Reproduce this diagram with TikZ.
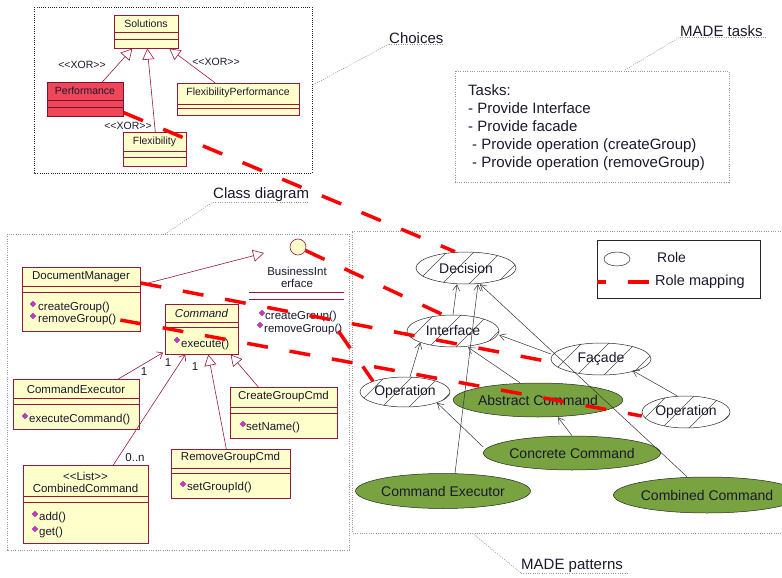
\documentclass[tikz,border=0pt]{standalone}
\usepackage{fontspec}
\setmainfont{Liberation Sans}[Ligatures=TeXOff]
\usetikzlibrary{arrows.meta,shapes.geometric}

\definecolor{umlline}{RGB}{150,25,60}
\definecolor{umlfill}{RGB}{255,255,204}
\definecolor{perfred}{RGB}{240,70,90}
\definecolor{cmdgreen}{RGB}{120,163,64}
\definecolor{mapred}{RGB}{255,0,0}
\definecolor{textcol}{RGB}{25,25,45}
\definecolor{iconmag}{RGB}{220,40,220}
\definecolor{framegray}{RGB}{150,150,150}

\newcommand\fcls{\fontsize{11.5}{12}\selectfont}
\newcommand\fchoice{\fontsize{10.5}{12}\selectfont}
\newcommand\fxor{\fontsize{10.5}{12}\selectfont}
\newcommand\frole{\fontsize{14}{16}\selectfont}
\newcommand\flabel{\fontsize{15}{18}\selectfont}

\begin{document}
\begin{tikzpicture}[x=1pt,y=-1pt,
  cls/.style={draw=umlline, fill=umlfill, line width=0.6pt, inner sep=0pt, anchor=north west},
  clsline/.style={draw=umlline, line width=0.6pt},
  txt/.style={inner sep=0pt, text=textcol},
  optxt/.style={txt, anchor=west, font=\fcls},
  opicon/.style={draw=black!60, fill=iconmag, minimum size=4pt, inner sep=0pt, rotate=45, line width=0.3pt},
  gen/.style={draw=umlline, line width=0.6pt, -{Triangle[open,length=11pt,width=12pt]}},
  assoc/.style={draw=umlline, line width=0.6pt, -{Straight Barb[length=5pt,width=8pt]}},
  role/.style={ellipse, draw=black!85, line width=0.5pt, inner sep=0pt, font=\frole, text=textcol},
  hatched/.style={role, fill=white,
    path picture={
      \foreach \k in {-3,...,3}
        \draw[black!70, line width=0.5pt]
          ([xshift=\k*27pt-8pt]path picture bounding box.center) ++(-40pt,-40pt) -- ++(80pt,80pt);
    }},
  greenrole/.style={role, fill=cmdgreen},
  rel/.style={draw=black!80, line width=0.5pt, -{Straight Barb[length=6pt,width=7pt]}},
  rolemap/.style={draw=mapred, line width=3.5pt, dash pattern=on 21pt off 22pt},
  grayframe/.style={draw=framegray, line width=0.6pt, dash pattern=on 1pt off 1.3pt},
  choiceframe/.style={draw=black!85, line width=0.6pt, dash pattern=on 1pt off 1.2pt},
  caption/.style={txt, font=\flabel, anchor=south west}
]
\useasboundingbox (0,0) rectangle (782,578);

% ---------- frames and their captions ----------
\draw[choiceframe] (34,7) rectangle (312,173);
\draw[grayframe] (7,234) rectangle (349,550);
\draw[grayframe] (790,231) -- (352,231) -- (352,533) -- (790,533);
\draw[grayframe] (455,71) rectangle (729,182);

\coordinate (chA) at (313,85);
\node[caption] (chcap) at (389,44) {Choices};
\draw[grayframe] (chcap.south west) -- (chcap.south east);
\draw[grayframe] (chA) -- (chcap.south west);

\coordinate (mtA) at (625,70);
\node[caption] (mtcap) at (680,37) {MADE tasks};
\draw[grayframe] (mtcap.south west) -- ([xshift=4pt]mtcap.south east);
\draw[grayframe] (mtA) -- (mtcap.south west);

\coordinate (cdA) at (165,234);
\node[caption] (cdcap) at (213,202) {Class diagram};
\draw[grayframe] (cdcap.south west) -- (cdcap.south east);
\draw[grayframe] (cdA) -- (cdcap.south west);

\coordinate (mpA) at (472,533);
\node[caption] (mpcap) at (521,573) {MADE patterns};
\draw[grayframe] (mpcap.south west) -- ([xshift=6pt]mpcap.south east);
\draw[grayframe] (mpA) -- (mpcap.south west);

% ---------- MADE tasks ----------
\node[txt, font=\flabel, anchor=north west, align=left] (tasks) at (468,84)
  {Tasks:\\- Provide Interface\\- Provide facade\\\hspace*{4pt}- Provide operation (createGroup)\\\hspace*{4pt}- Provide operation (removeGroup)};

% ---------- Choices ----------
\node[cls, minimum width=64pt, minimum height=33pt] (sol) at (114,15) {};
\draw[clsline] (114,32) -- (178,32) (114,39) -- (178,39);
\node[txt, font=\fchoice] (solname) at (146,24) {Solutions};

\node[cls, draw=umlline!80!black, fill=perfred, minimum width=76pt, minimum height=34pt] (perf) at (47,82) {};
\draw[clsline, draw=umlline!80!black] (47,100) -- (123,100) (47,107) -- (123,107);
\node[txt, font=\fchoice] (perfname) at (85,91) {Performance};

\node[cls, minimum width=122pt, minimum height=32pt] (flexperf) at (177,83) {};
\draw[clsline] (177,104) -- (299,104) (177,108) -- (299,108);
\node[txt, font=\fchoice] (flexperfname) at (238,93) {FlexibilityPerformance};

\node[cls, minimum width=63pt, minimum height=34pt] (flex) at (123,132) {};
\draw[clsline] (123,151) -- (186,151) (123,157) -- (186,157);
\node[txt, font=\fchoice] (flexname) at (154.5,142) {Flexibility};

\draw[gen] ([xshift=17pt]perf.north) -- ([xshift=-14pt]sol.south);
\draw[gen] ([xshift=0.5pt]flex.north) -- ([xshift=1pt]sol.south);
\draw[gen] ([xshift=-23pt]flexperf.north) -- ([xshift=23pt]sol.south);

\node[txt, font=\fxor] (xor1) at (82,65) {<<XOR>>};
\node[txt, font=\fxor] (xor2) at (216,62) {<<XOR>>};
\node[txt, font=\fxor] (xor3) at (128,126) {<<XOR>>};

% ---------- Class diagram ----------
% DocumentManager
\node[cls, minimum width=118pt, minimum height=64pt] (dm) at (22,267) {};
\draw[clsline] (22,286) -- (140,286) (22,292) -- (140,292);
\node[txt, font=\fcls] (dmname) at (81,277) {DocumentManager};
\node[opicon] (dmi1) at (33,304) {};
\node[optxt] (dmcg) at (38,308) {createGroup()};
\node[opicon] (dmi2) at (33,316) {};
\node[optxt] (dmrm) at (38,320) {removeGroup()};

% Command
\node[cls, minimum width=73pt, minimum height=50pt] (cmd) at (165,304) {};
\draw[clsline] (165,322) -- (238,322) (165,327) -- (238,327);
\node[txt, font=\fcls\itshape] (cmdname) at (201.5,313) {Command};
\node[opicon] (cmdi) at (177,340) {};
\node[optxt] (cmdex) at (181,345) {execute()};

% CommandExecutor
\node[cls, minimum width=126pt, minimum height=50pt] (ce) at (13,379) {};
\draw[clsline] (13,398) -- (139,398) (13,404) -- (139,404);
\node[txt, font=\fcls] (cename) at (76,389) {CommandExecutor};
\node[opicon] (cei) at (25,416) {};
\node[optxt] (ceex) at (29,420) {executeCommand()};

% CreateGroupCmd
\node[cls, minimum width=107pt, minimum height=51pt] (cgc) at (230,387) {};
\draw[clsline] (230,407) -- (337,407) (230,413) -- (337,413);
\node[txt, font=\fcls] (cgcname) at (283.5,397) {CreateGroupCmd};
\node[opicon] (cgci) at (243,424) {};
\node[optxt] (cgcop) at (246,428) {setName()};

% RemoveGroupCmd
\node[cls, minimum width=119pt, minimum height=49pt] (rgc) at (171,449) {};
\draw[clsline] (171,468) -- (290,468) (171,473) -- (290,473);
\node[txt, font=\fcls] (rgcname) at (230.5,458) {RemoveGroupCmd};
\node[opicon] (rgci) at (183,484) {};
\node[optxt] (rgcop) at (187,488) {setGroupId()};

% CombinedCommand
\node[cls, minimum width=125pt, minimum height=78pt] (cc) at (23,465) {};
\draw[clsline] (23,496) -- (148,496) (23,502) -- (148,502);
\node[txt, font=\fcls, align=center] (ccname) at (85.5,482) {<<List>>\\CombinedCommand};
\node[opicon] (cci1) at (35,514) {};
\node[optxt] (ccadd) at (39,518) {add()};
\node[opicon] (cci2) at (35,529) {};
\node[optxt] (ccget) at (39,533) {get()};

% BusinessInterface (interface shown as a lollipop)
\node[circle, draw=umlline, fill=umlfill, line width=0.6pt, minimum size=16pt, inner sep=0pt] (bi) at (298,247) {};
\node[txt, font=\fcls, align=center] (biname) at (297,277) {BusinessInt\\erface};
\draw[clsline] (249,292) -- (344,292) (249,299) -- (344,299);
\node[opicon] (bii1) at (262,313) {};
\node[optxt] (bicg) at (265,317) {createGroup()};
\node[opicon] (bii2) at (260,325) {};
\node[optxt] (birm) at (264,330) {removeGroup()};
\coordinate (biarrow) at (264,253);

\draw[gen] ([yshift=-18pt]dm.north east) -- (biarrow);
\draw[assoc] ([xshift=42pt]ce.north) -- ([xshift=-2pt,yshift=2pt]cmd.south west);
\draw[assoc] ([xshift=27.5pt]cc.north) -- ([xshift=-16.5pt]cmd.south);
\draw[gen] ([xshift=-4.5pt]rgc.north) -- ([xshift=6.5pt]cmd.south);
\draw[gen] ([xshift=-25.5pt]cgc.north) -- ([xshift=-8pt]cmd.south east);

\node[txt, font=\fcls] (m1) at (144,372) {1};
\node[txt, font=\fcls] (m2) at (168,363) {1};
\node[txt, font=\fcls] (m3) at (195,367) {1};
\node[txt, font=\fcls] (m4) at (135,458) {0..n};

% ---------- MADE patterns ----------
\node[hatched, minimum width=100pt, minimum height=32pt] (dec) at (466,268) {Decision};
\node[hatched, minimum width=92pt, minimum height=32pt] (intf) at (453,331) {Interface};
\node[hatched, minimum width=100pt, minimum height=32pt] (fac) at (601,359) {Façade};
\node[hatched, minimum width=90pt, minimum height=30pt] (opl) at (405,392) {Operation};
\node[hatched, minimum width=88pt, minimum height=32pt] (opr) at (686,412) {Operation};
\node[greenrole, minimum width=138pt, minimum height=34pt] (ac) at (538,400) {Abstract Command};
\node[greenrole, minimum width=146pt, minimum height=34pt] (conc) at (572,453) {Concrete Command};
\node[greenrole, minimum width=146pt, minimum height=35pt] (cex) at (443,491) {Command Executor};
\node[greenrole, minimum width=148pt, minimum height=36pt] (comb) at (707,495) {Combined Command};

\draw[rel] (intf.north) -- ([xshift=-9pt]dec.south);
\draw[rel] ([xshift=12pt]cex.north) -- ([xshift=12pt]dec.south);
\draw[rel] ([xshift=-20pt]comb.north) -- ([xshift=14pt]dec.south);
\draw[rel] ([xshift=5pt]opl.north) -- (intf.south west);
\draw[rel] ([xshift=-18pt]ac.north) -- ([xshift=15pt]intf.south);
\draw[rel] ([yshift=5pt]fac.west) -- ([yshift=-4pt]intf.east);
\draw[rel] ([xshift=-9pt]opr.north) -- ([xshift=-4pt]fac.south east);
\draw[rel] ([yshift=6pt]conc.west) -- (opl.south east);
\draw[rel] (conc.north) -- ([xshift=20pt]ac.south);

% legend
\node[draw=black!85, line width=0.6pt, minimum width=163pt, minimum height=58pt, inner sep=0pt, anchor=north west] (legend) at (597,240) {};
\node[ellipse, draw=black!85, line width=0.5pt, minimum width=26pt, minimum height=14pt, inner sep=0pt] (legrole) at (617,259) {};
\node[txt, font=\frole, anchor=west] (legroletxt) at (657,257) {Role};
\node[txt, font=\fontsize{14.5}{16}\selectfont, anchor=west] (legmaptxt) at (655,282) {Role mapping};
\coordinate (lega) at (597,282);
\coordinate (legb) at (650,282);
\draw[rolemap, dash phase=12pt] (lega) -- (legb);

% ---------- role mappings ----------
\draw[rolemap] ([yshift=4pt]perf.south east) -- ([xshift=-11pt]dec.north);
\draw[rolemap] (bi.-25) -- ([xshift=-10pt]intf.north);
\draw[rolemap] ([yshift=-16pt]dm.north east) -- ([yshift=-3pt]fac.west);
\draw[rolemap] ([xshift=4pt]dmrm.east) -- ([yshift=-4pt]opr.west);
\draw[rolemap] ([xshift=-4pt,yshift=-1pt]birm.east) -- (opl.north west);
\end{tikzpicture}
\end{document}
